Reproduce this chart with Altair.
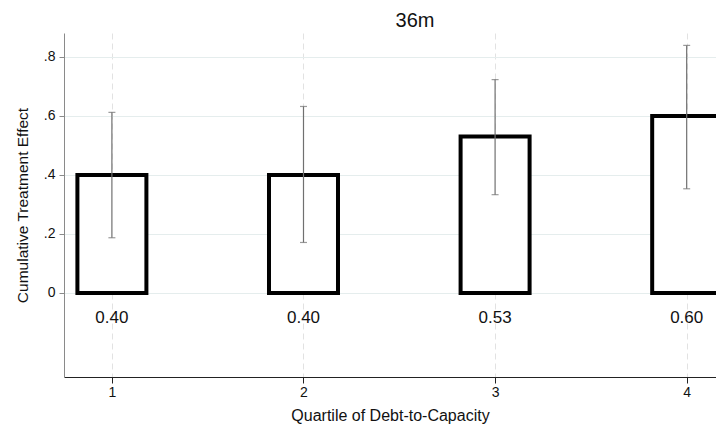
import altair as alt
import pandas as pd

quartiles = [1, 2, 3, 4]
effects = [0.40, 0.40, 0.53, 0.60]
ci_low = [0.187, 0.171, 0.333, 0.353]
ci_high = [0.612, 0.632, 0.723, 0.839]
labels = ["0.40", "0.40", "0.53", "0.60"]

df = pd.DataFrame({
    "q": quartiles,
    "effect": effects,
    "lo": ci_low,
    "hi": ci_high,
    "label": labels,
})

FONT = "Liberation Sans"
x_scale = alt.Scale(domain=[0.75, 4.153], nice=False, zero=False, padding=0)
y_scale = alt.Scale(domain=[-0.285, 0.881], nice=False, zero=False, padding=0)

x_axis = alt.Axis(
    values=[1, 2, 3, 4], title="Quartile of Debt-to-Capacity", format="d",
    grid=True, gridColor="#e2e2e2", gridDash=[6, 4], gridWidth=1,
    domainColor="#222222", tickColor="#222222", tickSize=6,
    labelFontSize=14, labelPadding=2, titleFontSize=16, titleFontWeight="normal",
    titlePadding=8, labelColor="#111111", titleColor="#111111",
)
y_axis = alt.Axis(
    values=[0, 0.2, 0.4, 0.6, 0.8], title="Cumulative Treatment Effect",
    labelExpr="datum.value == 0 ? '0' : replace(format(datum.value, '.1f'), '0.', '.')",
    grid=True, gridColor="#e5eded", gridWidth=1,
    domainColor="#8a8a8a", tickColor="#8a8a8a", tickSize=5,
    labelFontSize=14, labelPadding=4, titleFontSize=15.5, titleFontWeight="normal",
    titlePadding=13, labelColor="#111111", titleColor="#111111",
)

base = alt.Chart(df)

bars = base.mark_bar(
    orient="vertical", fill="white", stroke="black", strokeWidth=4, size=69, clip=True
).encode(
    x=alt.X("q:Q", scale=x_scale, axis=x_axis),
    y=alt.Y("effect:Q", scale=y_scale, axis=y_axis),
    y2=alt.datum(0),
)

err = base.mark_rule(color="#707070", strokeWidth=1.2, clip=True).encode(
    x=alt.X("q:Q", scale=x_scale),
    y=alt.Y("lo:Q", scale=y_scale),
    y2="hi:Q",
)

cap_lo = base.mark_tick(orient="horizontal", color="#707070", size=7, thickness=1.2, clip=True).encode(
    x=alt.X("q:Q", scale=x_scale),
    y=alt.Y("lo:Q", scale=y_scale),
)
cap_hi = base.mark_tick(orient="horizontal", color="#707070", size=7, thickness=1.2, clip=True).encode(
    x=alt.X("q:Q", scale=x_scale),
    y=alt.Y("hi:Q", scale=y_scale),
)

text = base.transform_calculate(ly="-0.084").mark_text(
    fontSize=17, color="#111111", font=FONT, baseline="middle", clip=True
).encode(
    x=alt.X("q:Q", scale=x_scale),
    y=alt.Y("ly:Q", scale=y_scale),
    text="label:N",
)

chart = alt.layer(bars, err, cap_lo, cap_hi, text).properties(
    width=652,
    height=344,
    title=alt.TitleParams("36m", fontSize=20, fontWeight="normal", dx=25, offset=2,
                          font=FONT, color="#111111"),
    autosize=alt.AutoSizeParams(type="none"),
    padding={"left": 56, "top": 25, "right": 0, "bottom": 48},
).configure(
    font=FONT,
).configure_view(
    stroke=None,
).configure_axis(
    labelFont=FONT, titleFont=FONT,
)

chart.save("out.html", embed_options={"renderer": "svg", "actions": False})
